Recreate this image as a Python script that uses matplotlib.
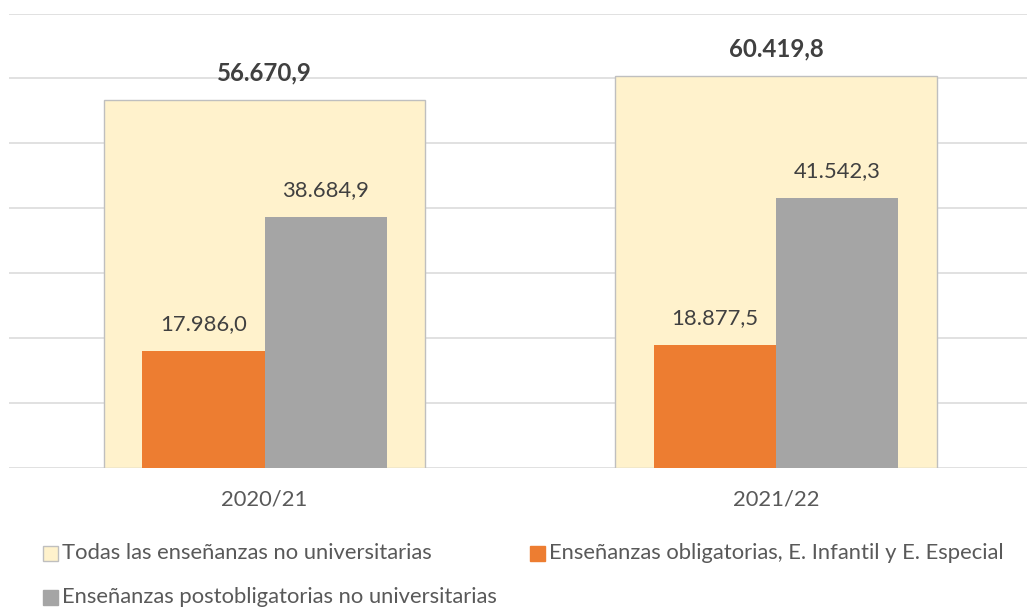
import matplotlib
matplotlib.use("Agg")
import matplotlib.pyplot as plt
from matplotlib.patches import Rectangle

categories = ["2020/21", "2021/22"]
series_names = ["Todas las enseñanzas no universitarias",
                "Enseñanzas obligatorias, E. Infantil y E. Especial",
                "Enseñanzas postobligatorias no universitarias"]
total = [56670.9, 60419.8]
obligatorias = [17986.0, 18877.5]
postobligatorias = [38684.9, 41542.3]

colors = ["#FFF2CC", "#ED7D31", "#A5A5A5"]

def fmt(v):
    s = f"{v:,.1f}"
    return s.replace(",", "X").replace(".", ",").replace("X", ".")

W, H, DPI = 1027, 607, 100
plt.rcParams['font.family'] = ['Lato', 'DejaVu Sans']
fig = plt.figure(figsize=(W / DPI, H / DPI), dpi=DPI)

left_px, right_px = 8.75, 1027
bottom_px, top_px = 607 - 467.7, 607 - 13.5
ax = fig.add_axes([left_px / W, bottom_px / H, (right_px - left_px) / W, (top_px - bottom_px) / H])
cat_w_px = 511.5
ax.set_xlim(-0.5, -0.5 + (right_px - left_px) / cat_w_px)
ax.set_ylim(0, 70000)

x = list(range(len(categories)))
ax.bar(x, total, width=0.628, color=colors[0], edgecolor="#BFBFBF", linewidth=1.0, zorder=2)
ax.bar([i - 0.1195 for i in x], obligatorias, width=0.239, color=colors[1], zorder=3)
ax.bar([i + 0.1195 for i in x], postobligatorias, width=0.239, color=colors[2], zorder=3)

fs = 22 * 72 / DPI
fsb = 24 * 72 / DPI
for i in x:
    ax.annotate(fmt(total[i]), (i, total[i]), xytext=(0, 19.5), textcoords="offset points",
                ha="center", va="center", fontsize=fsb, fontweight="bold", color="#404040", zorder=5)
    ax.annotate(fmt(obligatorias[i]), (i - 0.1195, obligatorias[i]), xytext=(0, 19.5), textcoords="offset points",
                ha="center", va="center", fontsize=fs, color="#404040", zorder=5)
    ax.annotate(fmt(postobligatorias[i]), (i + 0.1195, postobligatorias[i]), xytext=(0, 19.5), textcoords="offset points",
                ha="center", va="center", fontsize=fs, color="#404040", zorder=5)

ax.set_yticks(range(0, 70001, 10000))
ax.yaxis.grid(True, color="#D9D9D9", linewidth=1.1, zorder=0)
ax.set_axisbelow(True)
ax.tick_params(axis="y", left=False, labelleft=False)
ax.set_xticks(x)
ax.set_xticklabels(categories, fontsize=fs, color="#595959")
ax.tick_params(axis="x", length=0, pad=16)
for s in ax.spines.values():
    s.set_visible(False)

# legend (manual layout)
leg_items = [(series_names[0], colors[0], 43, 553, True),
             (series_names[1], colors[1], 530, 553, False),
             (series_names[2], colors[2], 43, 597, False)]
sq = 15
for name, col, xp, yp, edged in leg_items:
    fig.patches.append(Rectangle((xp / W, (H - yp - sq / 2) / H), sq / W, sq / H,
                                 transform=fig.transFigure, facecolor=col,
                                 edgecolor="#BFBFBF" if edged else col, linewidth=1.0))
    fig.text((xp + sq + 4) / W, (H - yp) / H, name, ha="left", va="center",
             fontsize=fs, color="#595959")

fig.savefig("out.png", dpi=DPI)
